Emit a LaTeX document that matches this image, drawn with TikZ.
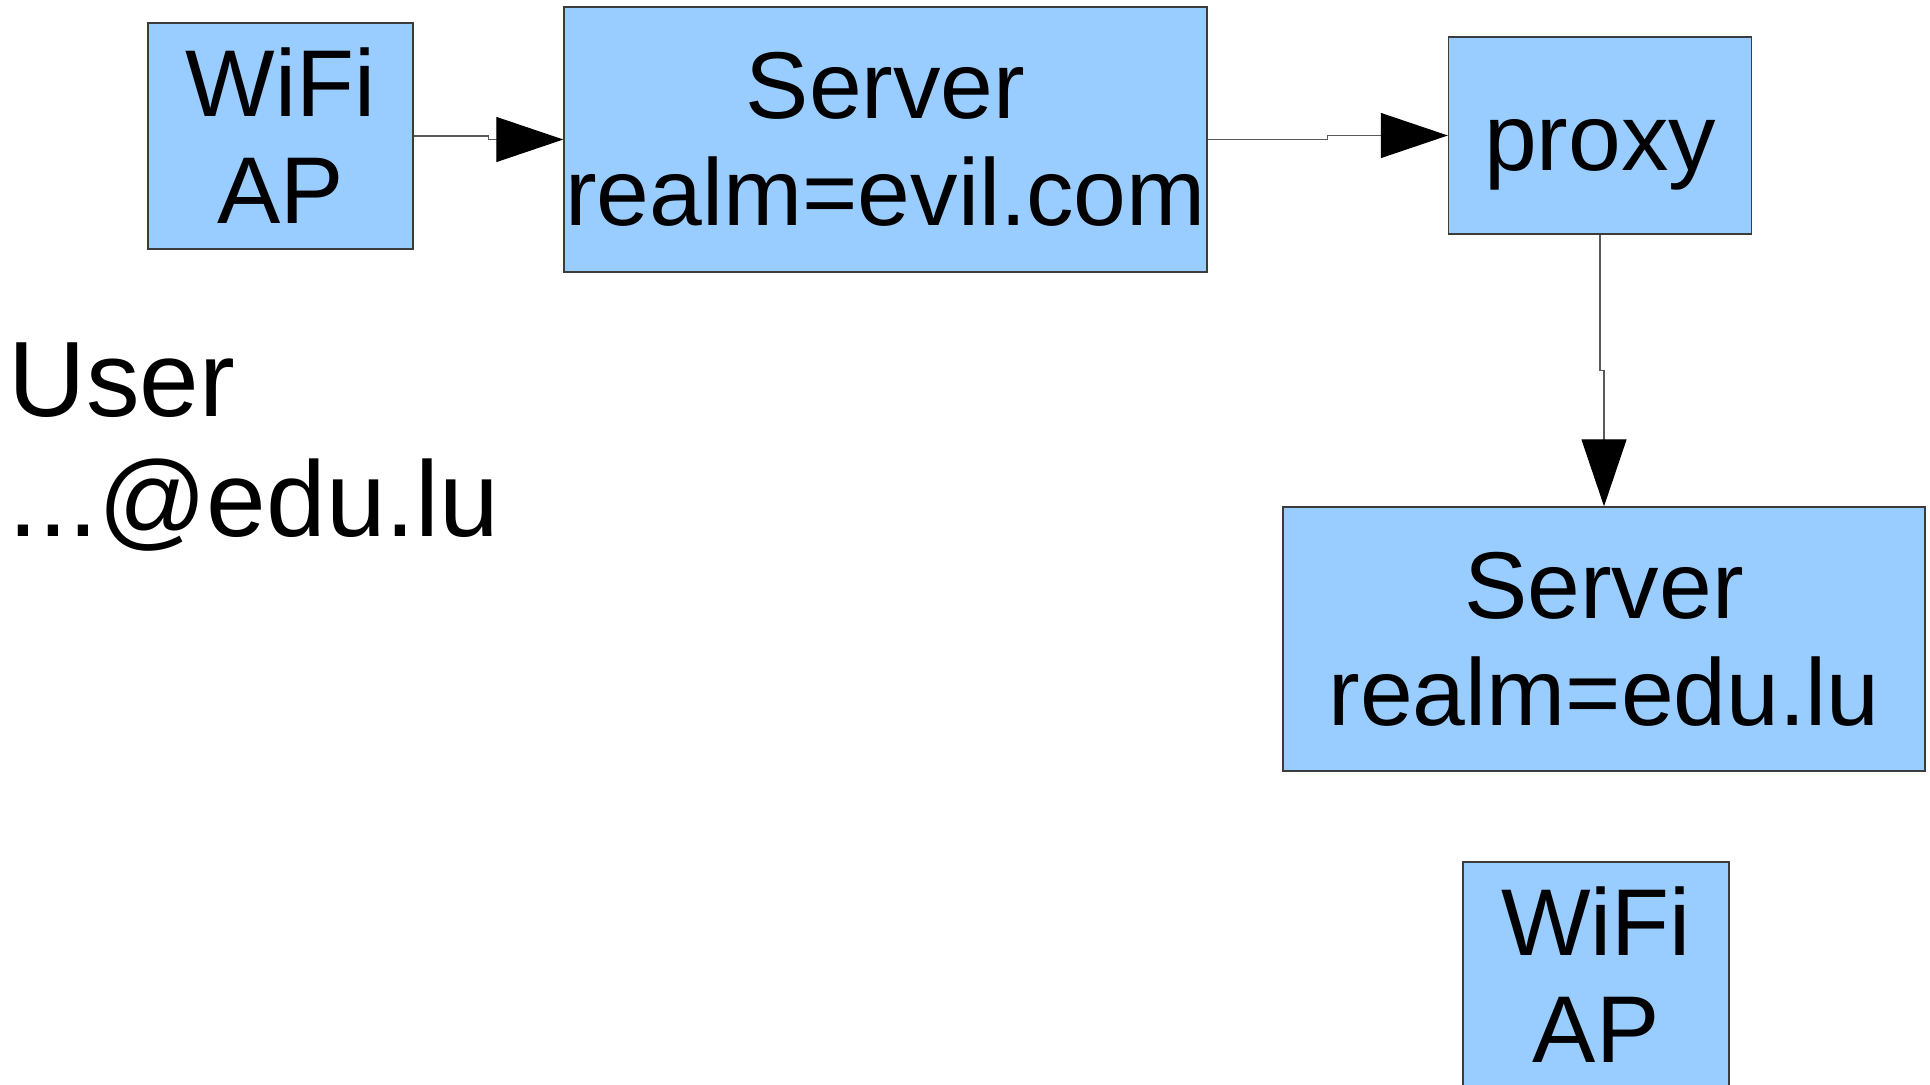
\documentclass[tikz,border=0pt]{standalone}
\usepackage{fontspec}
\setmainfont{Liberation Sans}
\usetikzlibrary{arrows.meta,calc}

\definecolor{boxblue}{HTML}{99CCFF}
\definecolor{edgegray}{HTML}{3C3C3C}
\definecolor{linegray}{HTML}{5A5A5A}

\tikzset{
  box/.style={draw=edgegray, line width=0.4pt, fill=boxblue, inner sep=0pt,
    align=center, font=\fontsize{27}{30.4}\selectfont},
  link/.style={draw=linegray, line width=0.35pt,
    -{Triangle[length=6.7mm,width=4.5mm,color=black]}},
}

\begin{document}
\begin{tikzpicture}[x=0.1mm, y=-0.1mm]

\useasboundingbox (0,0) rectangle (1930,1084);

% top row
\node[box, minimum width=26.5mm, minimum height=22.6mm] (apA) at (280.5,136) {WiFi\\AP};
\node[box, minimum width=64.3mm, minimum height=26.5mm] (evil) at (885.5,139.5) {Server\\realm=evil.com};
\node[box, minimum width=30.3mm, minimum height=19.7mm, text height=20pt, text depth=0pt] (proxy) at (1600,135.5) {proxy};

% home side
\node[box, minimum width=64.2mm, minimum height=26.4mm] (edu) at (1604,639) {Server\\realm=edu.lu};
\node[box, minimum width=26.6mm, minimum height=22.6mm] (apB) at (1596,975) {WiFi\\AP};

\node[anchor=base west, align=left, inner sep=0pt, font=\fontsize{30.5}{33.9}\selectfont] (user) at (8,536) {User\\...@edu.lu};

\draw[link] (apA.east) -| ($(apA.east)!.5!(evil.west)$) |- (evil.west);
\draw[link] (evil.east) -| ($(evil.east)!.5!(proxy.west)$) |- (proxy.west);
\draw[link] (proxy.south) |- ($(proxy.south)!.5!(edu.north)$) -| (edu.north);

\end{tikzpicture}
\end{document}
